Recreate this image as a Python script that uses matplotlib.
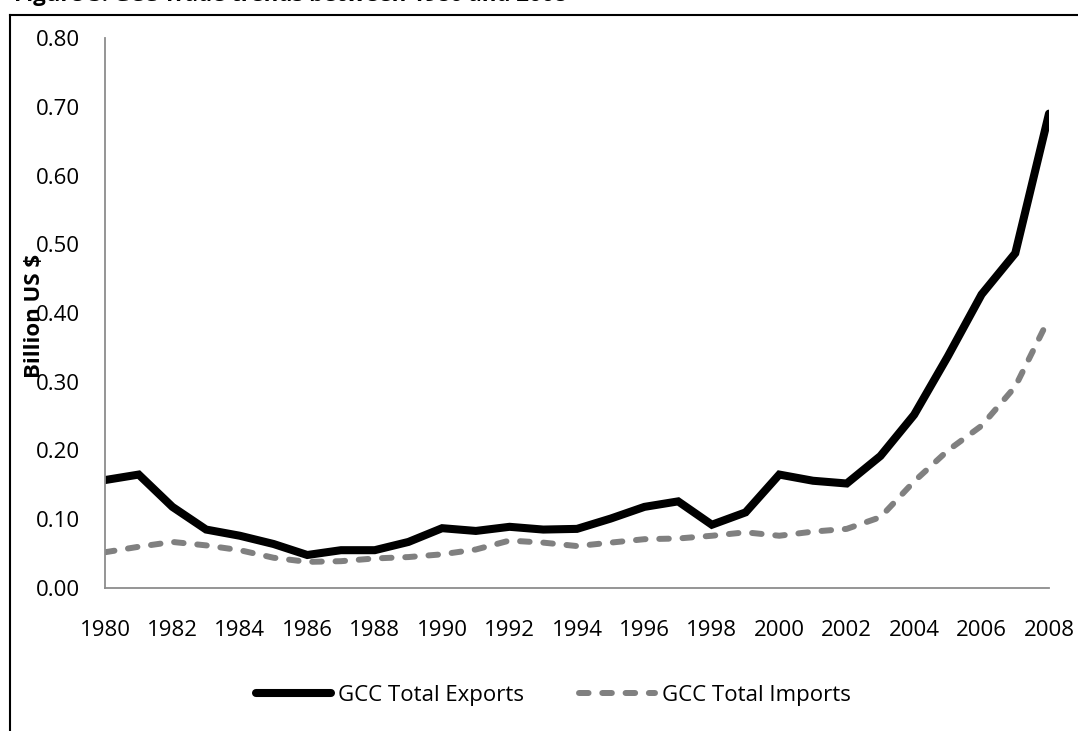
import matplotlib.pyplot as plt
import numpy as np
from matplotlib.lines import Line2D

years = list(range(1980, 2009))
exports = [0.157, 0.165, 0.118, 0.085, 0.076, 0.064, 0.048, 0.055, 0.055, 0.067,
           0.087, 0.083, 0.089, 0.085, 0.086, 0.101, 0.118, 0.126, 0.092, 0.110,
           0.165, 0.156, 0.152, 0.192, 0.252, 0.337, 0.427, 0.487, 0.690]
imports = [0.052, 0.060, 0.067, 0.062, 0.055, 0.044, 0.038, 0.039, 0.043, 0.045,
           0.049, 0.056, 0.069, 0.066, 0.061, 0.066, 0.071, 0.072, 0.076, 0.081,
           0.076, 0.082, 0.086, 0.103, 0.155, 0.200, 0.236, 0.293, 0.392]
yticks = [0.0, 0.1, 0.2, 0.3, 0.4, 0.5, 0.6, 0.7, 0.8]

plt.rcParams['font.family'] = ['Open Sans', 'DejaVu Sans']

W, H = 1078, 731
fig = plt.figure(figsize=(W/100, H/100), dpi=100)
ax = fig.add_axes([105/W, 1-588/H, 944/W, 550/H])

ax.plot(years, exports, color='black', lw=5.8, solid_capstyle='round',
        solid_joinstyle='miter', label='GCC Total Exports')
ax.plot(years, imports, color='#808080', lw=4.3, dashes=(1.6, 2.3),
        dash_capstyle='round', label='GCC Total Imports')

ax.set_xlim(1980, 2008)
ax.set_ylim(0, 0.8)
ax.set_xticks(years[::2])
ax.set_xticklabels([str(y) for y in years[::2]])
ax.set_yticks(yticks)
ax.set_yticklabels(['%.2f' % v for v in yticks])
ax.tick_params(axis='both', length=0, labelsize=16)
ax.tick_params(axis='y', pad=18)
ax.tick_params(axis='x', pad=23)
for s in ['top', 'right']:
    ax.spines[s].set_visible(False)
for s in ['left', 'bottom']:
    ax.spines[s].set_color('#8c8c8c')
    ax.spines[s].set_linewidth(1.3)

fig.text(35/W, 1-316/H, 'Billion US $', rotation=90, fontsize=16,
         fontweight='bold', ha='center', va='center')

fig.legend(loc='center', bbox_to_anchor=(553/W, 1-695/H), ncol=2,
           frameon=False, fontsize=16, handlelength=3.4, columnspacing=2.5,
           handletextpad=0.3)

# caption cut by the top edge, and the frame around the chart
fig.text(14/W, 1-6/H, 'Figure 3: GCC Trade trends between 1980 and 2008',
         fontsize=16, fontweight='bold', ha='left', va='bottom')
fig.add_artist(Line2D([10/W, 1], [1-15/H, 1-15/H], color='black', lw=1.5,
                      transform=fig.transFigure))
fig.add_artist(Line2D([10/W, 10/W], [0, 1-15/H], color='black', lw=1.5,
                      transform=fig.transFigure))

fig.savefig('out.png', dpi=100)
